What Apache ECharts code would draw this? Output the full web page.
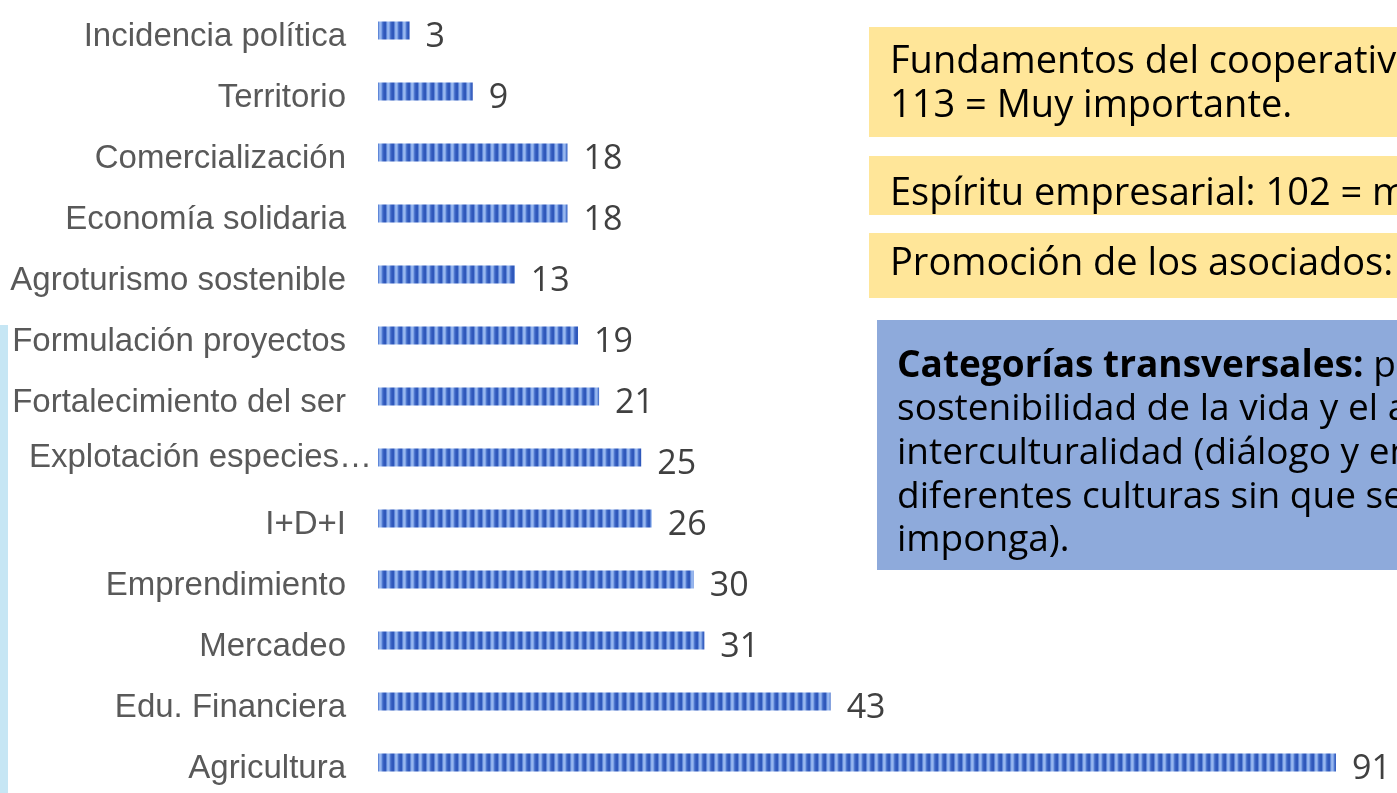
<!DOCTYPE html>
<html>
<head>
  <meta charset="UTF-8">
  <title>Categorías</title>
  <script src="https://cdn.jsdelivr.net/npm/echarts@6/dist/echarts.min.js"></script>
  <style>
    html, body { margin: 0; padding: 0; background: #fff; }
    #main { width: 1397px; height: 793px; }
  </style>
</head>
<body>
<div id="main"></div>
<script type="text/javascript">
  // categorías (de arriba hacia abajo) y frecuencias
  var categorias = ['Incidencia política', 'Territorio', 'Comercialización', 'Economía solidaria',
    'Agroturismo sostenible', 'Formulación proyectos', 'Fortalecimiento del ser', 'Explotación especies…',
    'I+D+I', 'Emprendimiento', 'Mercadeo', 'Edu. Financiera', 'Agricultura'];
  var valores = [3, 9, 18, 18, 13, 19, 21, 25, 26, 30, 31, 43, 91];

  // textos de los recuadros (se cortan en el borde derecho)
  var cajaFundamentos = ['Fundamentos del cooperativismo:', '113 = Muy importante.'];
  var cajaEspiritu = 'Espíritu empresarial: 102 = muy importante.';
  var cajaPromocion = 'Promoción de los asociados: 5';
  var transversalTitulo = 'Categorías transversales:';
  var transversalTexto = ['para la', 'sostenibilidad de la vida y el ambiente,', 'interculturalidad (diálogo y encuentro de',
    'diferentes culturas sin que se', 'imponga).'];

  // patron de rayas verticales para las barras
  var cv = document.createElement('canvas');
  cv.width = 8;
  cv.height = 4;
  var cx = cv.getContext('2d');
  var rayas = ['#2f58bb', '#2f58bb', '#5f87d8', '#8fb0ec', '#98b7ef', '#7ea2e6', '#4f78cf', '#3a62c2'];
  for (var i = 0; i < rayas.length; i++) {
    cx.fillStyle = rayas[i];
    cx.fillRect(i, 0, 1, 4);
  }

  // la etiqueta truncada llega hasta la barra
  var datosEje = categorias.map(function (c) {
    if (c.indexOf('…') > -1) {
      return { value: c, textStyle: { padding: [0, -26, 0, 0] } };
    }
    return c;
  });

  var myChart = echarts.init(document.getElementById('main'));

  var fuenteCaja = '"Open Sans", sans-serif';
  var graficos = [
    { type: 'rect', shape: { x: 0, y: 325, width: 8, height: 468 }, style: { fill: '#c6e6f4' } },
    { type: 'rect', shape: { x: 869, y: 27, width: 540, height: 110 }, style: { fill: '#ffe699' } },
    { type: 'text', x: 890, y: 62, style: { text: cajaFundamentos[0], font: '38px ' + fuenteCaja, fill: '#000', verticalAlign: 'middle' } },
    { type: 'text', x: 890, y: 106, style: { text: cajaFundamentos[1], font: '38px ' + fuenteCaja, fill: '#000', verticalAlign: 'middle' } },
    { type: 'rect', shape: { x: 869, y: 156, width: 540, height: 59 }, style: { fill: '#ffe699' } },
    { type: 'text', x: 890, y: 194, style: { text: cajaEspiritu, font: '38px ' + fuenteCaja, fill: '#000', verticalAlign: 'middle' } },
    { type: 'rect', shape: { x: 869, y: 233, width: 540, height: 65 }, style: { fill: '#ffe699' } },
    { type: 'text', x: 890, y: 264, style: { text: cajaPromocion, font: '38px ' + fuenteCaja, fill: '#000', verticalAlign: 'middle' } },
    { type: 'rect', shape: { x: 877, y: 320, width: 540, height: 250 }, style: { fill: '#8eaadb' } },
    {
      type: 'text', x: 897, y: 366,
      style: {
        text: '{b|' + transversalTitulo + '} ' + transversalTexto[0],
        rich: { b: { font: 'bold 37px ' + fuenteCaja, fill: '#000' } },
        font: '37px ' + fuenteCaja, fill: '#000', verticalAlign: 'middle'
      }
    }
  ];
  for (var k = 1; k < transversalTexto.length; k++) {
    graficos.push({
      type: 'text', x: 897, y: 366 + k * 43.7,
      style: { text: transversalTexto[k], font: '37px ' + fuenteCaja, fill: '#000', verticalAlign: 'middle' }
    });
  }

  var option = {
    animation: false,
    grid: { left: 378, right: 61, top: -3, height: 807 },
    xAxis: {
      type: 'value', min: 0, max: 91, show: false
    },
    yAxis: {
      type: 'category',
      inverse: true,
      data: datosEje,
      axisLine: { show: false },
      axisTick: { show: false },
      axisLabel: {
        margin: 32,
        verticalAlign: 'top',
        lineHeight: 12,
        fontFamily: '"Liberation Sans", Arial, sans-serif',
        fontSize: 33,
        color: '#595959'
      }
    },
    series: [{
      type: 'bar',
      data: valores,
      barWidth: 18,
      itemStyle: { color: { image: cv, repeat: 'repeat' } },
      label: {
        show: true,
        position: 'right',
        distance: 16,
        offset: [0, 7],
        fontFamily: '"Open Sans", sans-serif',
        fontSize: 34,
        color: '#404040'
      }
    }],
    graphic: graficos
  };
  myChart.setOption(option);
</script>
</body>
</html>
